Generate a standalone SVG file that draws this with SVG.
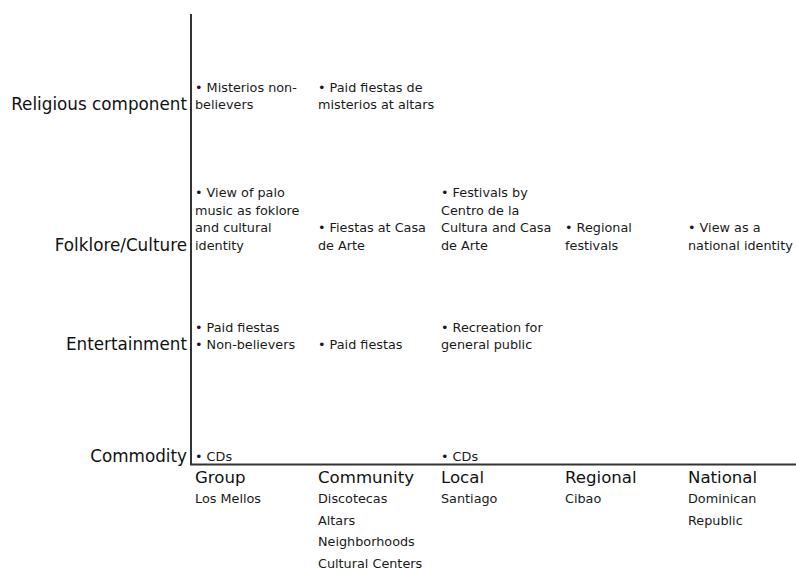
<svg xmlns="http://www.w3.org/2000/svg" width="796" height="569" viewBox="0 0 796 569">
<style>
.row{font-family:"DejaVu Sans",Verdana,sans-serif;font-size:16.8px;fill:#111;text-anchor:end}
.col{font-family:"DejaVu Sans",Verdana,sans-serif;font-size:16.6px;fill:#111}
.t{font-family:"DejaVu Sans",Verdana,sans-serif;font-size:12.8px;fill:#1a1a1a}
.ax{stroke:#333;stroke-width:2;fill:none}
</style>
<rect width="796" height="569" fill="#fff"/>
<g id="connectors">
<line class="ax" x1="191" y1="14" x2="191" y2="465"/>
<line class="ax" x1="190" y1="464.5" x2="796" y2="464.5"/>
</g>
<g id="row-labels">
<text class="row" x="187" y="110">Religious component</text>
<text class="row" x="187" y="251">Folklore/Culture</text>
<text class="row" x="187" y="350">Entertainment</text>
<text class="row" x="187" y="462">Commodity</text>
</g>
<g id="col-labels">
<text class="col" x="195" y="483">Group</text>
<text class="t" x="195" y="503">Los Mellos</text>
<text class="col" x="318" y="483">Community</text>
<text class="t" x="318" y="503">Discotecas</text>
<text class="t" x="318" y="524.5">Altars</text>
<text class="t" x="318" y="546">Neighborhoods</text>
<text class="t" x="318" y="567.5">Cultural Centers</text>
<text class="col" x="441" y="483">Local</text>
<text class="t" x="441" y="503">Santiago</text>
<text class="col" x="565" y="483">Regional</text>
<text class="t" x="565" y="503">Cibao</text>
<text class="col" x="688" y="483">National</text>
<text class="t" x="688" y="503">Dominican</text>
<text class="t" x="688" y="524.5">Republic</text>
</g>
<g id="religious-group"><text class="t" x="195" y="92">• Misterios non-</text><text class="t" x="195" y="109">believers</text></g>
<g id="religious-community"><text class="t" x="318" y="92">• Paid fiestas de</text><text class="t" x="318" y="109">misterios at altars</text></g>
<g id="folklore-group"><text class="t" x="195" y="197">• View of palo</text><text class="t" x="195" y="214.7">music as foklore</text><text class="t" x="195" y="232.3">and cultural</text><text class="t" x="195" y="250">identity</text></g>
<g id="folklore-community"><text class="t" x="318" y="232.3">• Fiestas at Casa</text><text class="t" x="318" y="250">de Arte</text></g>
<g id="folklore-local"><text class="t" x="441" y="197">• Festivals by</text><text class="t" x="441" y="214.7">Centro de la</text><text class="t" x="441" y="232.3">Cultura and Casa</text><text class="t" x="441" y="250">de Arte</text></g>
<g id="folklore-regional"><text class="t" x="565" y="232.3">• Regional</text><text class="t" x="565" y="250">festivals</text></g>
<g id="folklore-national"><text class="t" x="688" y="232.3">• View as a</text><text class="t" x="688" y="250">national identity</text></g>
<g id="entertainment-group"><text class="t" x="195" y="331.5">• Paid fiestas</text><text class="t" x="195" y="349">• Non-believers</text></g>
<g id="entertainment-community"><text class="t" x="318" y="349">• Paid fiestas</text></g>
<g id="entertainment-local"><text class="t" x="441" y="331.5">• Recreation for</text><text class="t" x="441" y="349">general public</text></g>
<g id="commodity-group"><text class="t" x="195" y="460.5">• CDs</text></g>
<g id="commodity-local"><text class="t" x="441" y="460.5">• CDs</text></g>
</svg>
